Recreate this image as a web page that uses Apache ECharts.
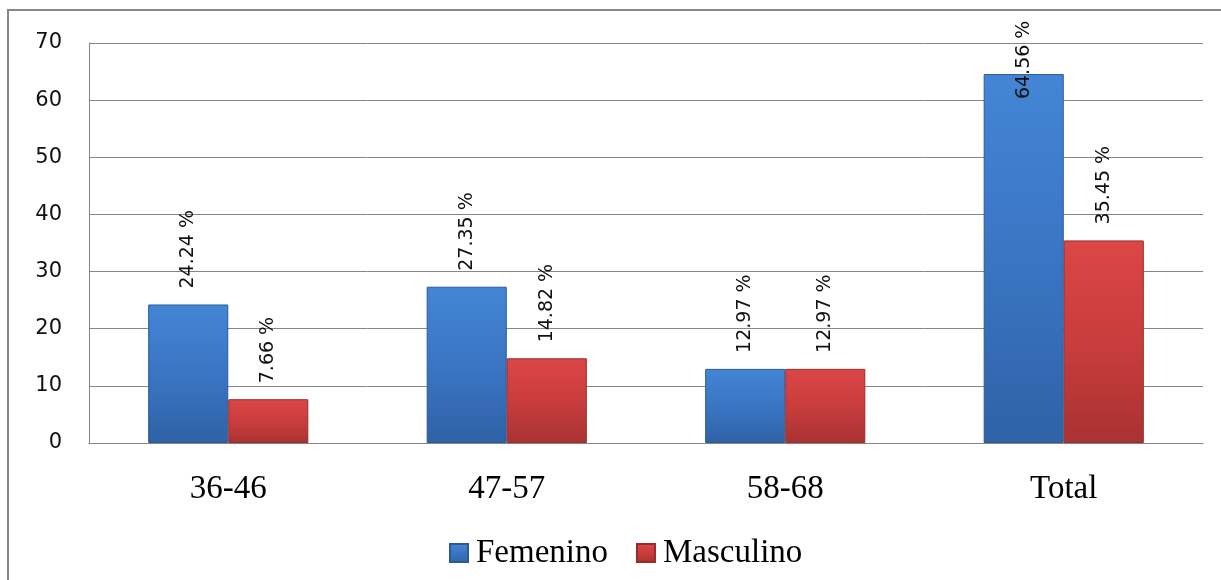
<!DOCTYPE html>
<html><head><meta charset="utf-8">
<script src="https://cdn.jsdelivr.net/npm/echarts@6/dist/echarts.min.js"></script>
<style>html,body{margin:0;padding:0;background:#fff}#c{width:1221px;height:580px}</style>
</head><body><div id="c"></div>
<script>
const categories = ['36-46', '47-57', '58-68', 'Total'];
const femenino = [24.24, 27.35, 12.97, 64.56];
const masculino = [7.66, 14.82, 12.97, 35.45];
const seriesNames = ['Femenino', 'Masculino'];
const yTicks = { min: 0, max: 70, interval: 10 };

const blueFill = new echarts.graphic.LinearGradient(0, 0, 0, 1, [
  { offset: 0, color: '#4485d6' }, { offset: 0.5, color: '#3a75c3' }, { offset: 1, color: '#2f62a6' }]);
const redFill = new echarts.graphic.LinearGradient(0, 0, 0, 1, [
  { offset: 0, color: '#dc4646' }, { offset: 0.5, color: '#c93d3d' }, { offset: 1, color: '#a93232' }]);

function toData(vals) {
  return vals.map(v => v > 60 ? { value: v, label: { position: 'insideTop', distance: 25 } } : v);
}
const labelCfg = {
  show: true, position: 'top', distance: 16, rotate: 90, align: 'left', verticalAlign: 'middle',
  fontFamily: 'DejaVu Sans', fontSize: 19, color: '#111',
  formatter: p => p.value.toFixed(2) + ' %'
};

const chart = echarts.init(document.getElementById('c'), null, { renderer: 'canvas' });
chart.setOption({
  animation: false,
  graphic: [{ type: 'rect', shape: { x: 8, y: 10, width: 1300, height: 700 }, style: { fill: 'none', stroke: '#878787', lineWidth: 2 }, silent: true }],
  grid: { left: 89, right: 18, top: 43, bottom: 137 },
  legend: {
    data: seriesNames, left: 444, top: 530, itemWidth: 18, itemHeight: 18, itemGap: 28, icon: 'rect',
    textStyle: { fontFamily: 'Liberation Serif', fontSize: 33, color: '#000', lineHeight: 36, padding: [0, 0, 0, 3] }
  },
  xAxis: {
    type: 'category', data: categories,
    axisLine: { lineStyle: { color: '#868686', width: 1 } }, axisTick: { show: false },
    axisLabel: { fontFamily: 'Liberation Serif', fontSize: 33, color: '#000', margin: 30 }
  },
  yAxis: {
    type: 'value', min: yTicks.min, max: yTicks.max, interval: yTicks.interval,
    axisLine: { show: true, lineStyle: { color: '#868686', width: 1 } }, axisTick: { show: false },
    splitLine: { lineStyle: { color: '#868686', width: 1 } },
    axisLabel: { fontFamily: 'DejaVu Sans', fontSize: 21, color: '#111', margin: 27 }
  },
  series: [
    { name: seriesNames[0], type: 'bar', data: toData(femenino), barGap: '0%', barCategoryGap: '42.5%',
      itemStyle: { color: blueFill, borderColor: '#2a5a98', borderWidth: 1 }, label: labelCfg },
    { name: seriesNames[1], type: 'bar', data: toData(masculino),
      itemStyle: { color: redFill, borderColor: '#9a2b2b', borderWidth: 1 }, label: labelCfg }
  ]
});
</script></body></html>
